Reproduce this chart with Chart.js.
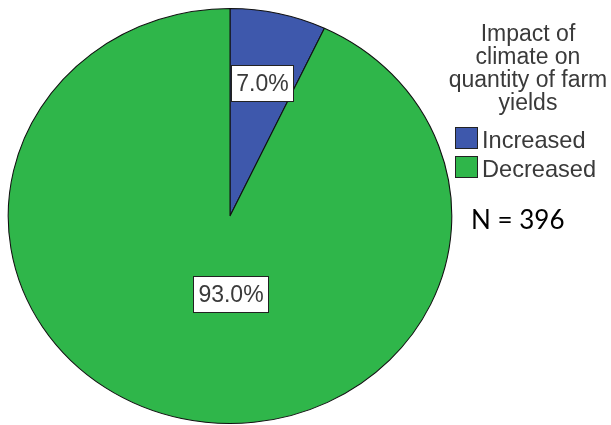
<!DOCTYPE html>
<html>
<head>
<meta charset="utf-8">
<script src="https://cdn.jsdelivr.net/npm/chart.js@4"></script>
<style>
  html, body { margin: 0; padding: 0; background: #fff; }
  #wrap { width: 611px; height: 425px; }
</style>
</head>
<body>
<div id="wrap"><canvas id="c" width="611" height="425"></canvas></div>
<script>
const kategori = ["Increased", "Decreased"];
const persen = [7.0, 93.0];
const warna = ["#3e58ac", "#2fb64a"];
const judulLegend = ["Impact of", "climate on", "quantity of farm", "yields"];
const catatanN = "N = 396";

// pie di gambar asli sedikit lonjong (lebih lebar dari tinggi)
const SKALA_X = 221.8 / 207.5;
const FONT_SPSS = '"Liberation Sans", Arial, sans-serif';

const elipsPlugin = {
  id: "elips",
  beforeDatasetsDraw(chart) {
    const arc = chart.getDatasetMeta(0).data[0];
    const ctx = chart.ctx;
    ctx.save();
    ctx.translate(arc.x, arc.y);
    ctx.scale(SKALA_X, 1);
    ctx.translate(-arc.x, -arc.y);
  },
  afterDatasetsDraw(chart) {
    chart.ctx.restore();
  }
};

const labelPlugin = {
  id: "labelPersen",
  afterDraw(chart) {
    const ctx = chart.ctx;
    const meta = chart.getDatasetMeta(0);
    const posisi = [{ r: 0.657 }, { r: 0.378, sudut: Math.PI / 2 }];
    ctx.save();
    ctx.font = "23px " + FONT_SPSS;
    ctx.textAlign = "center";
    ctx.textBaseline = "middle";
    meta.data.forEach((arc, i) => {
      const p = posisi[i];
      const sudut = p.sudut !== undefined ? p.sudut : (arc.startAngle + arc.endAngle) / 2;
      const x = arc.x + Math.cos(sudut) * arc.outerRadius * p.r * SKALA_X;
      const y = arc.y + Math.sin(sudut) * arc.outerRadius * p.r;
      const teks = persen[i].toFixed(1) + "%";
      const w = Math.round(ctx.measureText(teks).width + 10);
      const h = 36;
      const bx = Math.round(x - w / 2) + 0.5;
      const by = Math.round(y - h / 2) + 0.5;
      ctx.fillStyle = "#fff";
      ctx.fillRect(bx, by, w, h);
      ctx.strokeStyle = "#222";
      ctx.lineWidth = 1;
      ctx.strokeRect(bx, by, w, h);
      ctx.fillStyle = "#3a3a3a";
      ctx.fillText(teks, bx + w / 2, by + h / 2 + 1);
    });
    ctx.restore();
  }
};

const legendPlugin = {
  id: "legendSpss",
  afterDraw(chart) {
    const ctx = chart.ctx;
    const ds = chart.data.datasets[0];
    ctx.save();
    ctx.font = "23px " + FONT_SPSS;
    ctx.fillStyle = "#3a3a3a";
    ctx.textAlign = "center";
    ctx.textBaseline = "alphabetic";
    judulLegend.forEach((baris, i) => {
      ctx.fillText(baris, 528, 41 + i * 23);
    });
    ctx.textAlign = "left";
    ctx.font = "23.6px " + FONT_SPSS;
    chart.data.labels.forEach((lbl, i) => {
      const y = 127 + i * 29;
      ctx.fillStyle = ds.backgroundColor[i];
      ctx.fillRect(455.5, y + 0.5, 22, 21);
      ctx.strokeStyle = "#222";
      ctx.lineWidth = 1;
      ctx.strokeRect(455.5, y + 0.5, 22, 21);
      ctx.fillStyle = "#3a3a3a";
      ctx.fillText(lbl, 482, y + 21);
    });
    ctx.font = '26px Lato, "Open Sans", sans-serif';
    ctx.fillStyle = "#000";
    ctx.fillText(catatanN, 471, 229);
    ctx.restore();
  }
};

new Chart(document.getElementById("c"), {
  type: "pie",
  data: {
    labels: kategori,
    datasets: [{
      data: persen,
      backgroundColor: warna,
      borderColor: "#111",
      borderWidth: 1
    }]
  },
  options: {
    responsive: false,
    animation: false,
    layout: { padding: { left: 22, top: 8, right: 173, bottom: 1 } },
    plugins: {
      legend: { display: false },
      tooltip: { enabled: false }
    }
  },
  plugins: [elipsPlugin, labelPlugin, legendPlugin]
});
</script>
</body>
</html>
